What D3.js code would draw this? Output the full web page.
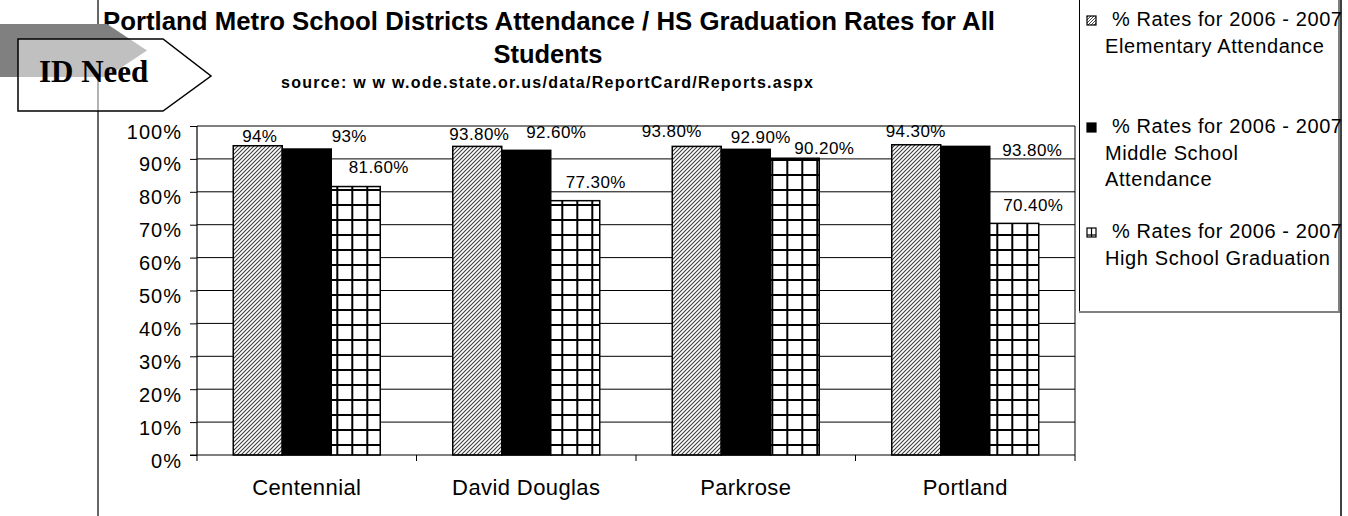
<!DOCTYPE html>
<html><head><meta charset="utf-8">
<script src="https://cdn.jsdelivr.net/npm/d3@7/dist/d3.min.js"></script>
<style>body{margin:0;background:#fff;} svg{display:block;}</style>
</head><body><svg id="c" width="1348" height="516"></svg>
<script>
// ---------- data ----------
const categories = ["Centennial", "David Douglas", "Parkrose", "Portland"];
const elementary = [94, 93.8, 93.8, 94.3];
const middle = [93, 92.6, 92.9, 93.8];
const highSchool = [81.6, 77.3, 90.2, 70.4];
const elementaryLabels = ["94%", "93.80%", "93.80%", "94.30%"];
const middleLabels = ["93%", "92.60%", "92.90%", "93.80%"];
const highSchoolLabels = ["81.60%", "77.30%", "90.20%", "70.40%"];
const seriesLegend = [
  ["% Rates for 2006 - 2007", "Elementary Attendance"],
  ["% Rates for 2006 - 2007", "Middle School", "Attendance"],
  ["% Rates for 2006 - 2007", "High School Graduation"]
];
const yTicks = [0, 10, 20, 30, 40, 50, 60, 70, 80, 90, 100];
const titleLines = ["Portland Metro School Districts Attendance / HS Graduation Rates for All", "Students"];
const sourceText = "source: w w w.ode.state.or.us/data/ReportCard/Reports.aspx";
const badgeText = "ID Need";

// label nudges (layout only): [dx from bar centre, dy of baseline from bar top]
const labelNudge = [
  [[2, -4], [2, -6.4], [-25, -9], [-0.5, -7.5]],
  [[42.5, -7.3], [30, -12], [15, -6], [67, 9.3]],
  [[23, -13.5], [20.5, -12.4], [29.5, -4], [19, -12.4]]
];

const series = [
  {values: elementary, labels: elementaryLabels, fill: "url(#hatch)"},
  {values: middle, labels: middleLabels, fill: "#000"},
  {values: highSchool, labels: highSchoolLabels, fill: "url(#grid)"}
];

// ---------- layout ----------
const FONT = "'Liberation Sans', Arial, sans-serif";
const svg = d3.select("#c");
const plot = {left: 197, right: 1075, top: 126, bottom: 455};

const x = d3.scaleBand().domain(categories).range([plot.left, plot.right]).paddingInner(0).paddingOuter(0);
const xs = d3.scaleBand().domain([0, 1, 2]).range([0, x.bandwidth()]).paddingInner(0).paddingOuter(0.74);
const y = d3.scaleLinear().domain([0, 100]).range([plot.bottom, plot.top]);

// ---------- patterns ----------
const defs = svg.append("defs");
const hatch = defs.append("pattern").attr("id", "hatch").attr("patternUnits", "userSpaceOnUse")
  .attr("width", 4).attr("height", 4);
hatch.append("rect").attr("width", 4).attr("height", 4).attr("fill", "#fff");
hatch.append("path").attr("d", "M-1,1 L1,-1 M0,4 L4,0 M3,5 L5,3")
  .attr("stroke", "#3a3a3a").attr("stroke-width", 1.05);

const grid = defs.append("pattern").attr("id", "grid").attr("patternUnits", "userSpaceOnUse")
  .attr("x", 6.3).attr("y", 9).attr("width", 15).attr("height", 15);
grid.append("rect").attr("width", 15).attr("height", 15).attr("fill", "#fff");
grid.append("path").attr("d", "M1,0 V15 M0,1 H15").attr("stroke", "#000").attr("stroke-width", 2);

const lhatch = defs.append("pattern").attr("id", "lhatch").attr("patternUnits", "userSpaceOnUse")
  .attr("width", 3).attr("height", 3);
lhatch.append("rect").attr("width", 3).attr("height", 3).attr("fill", "#fff");
lhatch.append("path").attr("d", "M-1,1 L1,-1 M0,3 L3,0 M2,4 L4,2")
  .attr("stroke", "#333").attr("stroke-width", 0.9);

// ---------- chart frame ----------
svg.append("line").attr("x1", 98).attr("x2", 98).attr("y1", 0).attr("y2", 516)
  .attr("stroke", "#000").attr("stroke-width", 1.2);
svg.append("line").attr("x1", 1341).attr("x2", 1341).attr("y1", 0).attr("y2", 516)
  .attr("stroke", "#000").attr("stroke-width", 1.5);

// ---------- gridlines ----------
svg.append("g").selectAll("line").data(yTicks.filter(d => d > 0)).join("line")
  .attr("x1", plot.left).attr("x2", plot.right)
  .attr("y1", d => y(d)).attr("y2", d => y(d))
  .attr("stroke", "#000").attr("stroke-width", 1);
svg.append("line").attr("x1", plot.right).attr("x2", plot.right)
  .attr("y1", plot.top).attr("y2", plot.bottom).attr("stroke", "#000").attr("stroke-width", 1);

// ---------- bars ----------
series.forEach((s, si) => {
  svg.append("g").selectAll("rect").data(categories).join("rect")
    .attr("x", (c) => x(c) + xs(si))
    .attr("width", xs.bandwidth())
    .attr("y", (c, i) => y(s.values[i]))
    .attr("height", (c, i) => y(0) - y(s.values[i]))
    .attr("fill", s.fill)
    .attr("stroke", "#000").attr("stroke-width", 1.5);
});

// ---------- axes ----------
const yAxis = svg.append("g").attr("transform", `translate(${plot.left},0)`)
  .call(d3.axisLeft(y).tickValues(yTicks).tickSize(7).tickFormat(d => d + "%"));
yAxis.select(".domain").attr("stroke", "#000").attr("stroke-width", 1.2).attr("d", `M0,${plot.top}V${plot.bottom}`);
yAxis.selectAll(".tick line").attr("stroke", "#000").attr("stroke-width", 1);
yAxis.selectAll(".tick text").attr("x", -15).attr("dy", "0.6em")
  .attr("font-family", FONT).attr("font-size", 20).attr("letter-spacing", 1).attr("fill", "#000");

const xAxis = svg.append("g").attr("transform", `translate(0,${plot.bottom})`)
  .call(d3.axisBottom(x).tickSize(0).tickSizeOuter(0));
xAxis.select(".domain").attr("stroke", "#000").attr("stroke-width", 1.2).attr("d", `M${plot.left - 7},0H${plot.right}`);
xAxis.selectAll(".tick text").attr("y", 40).attr("dy", 0)
  .attr("font-family", FONT).attr("font-size", 22).attr("letter-spacing", 0.4).attr("fill", "#000");
const edges = categories.map(c => x(c)).concat([x(categories[categories.length - 1]) + x.bandwidth()]);
xAxis.append("g").selectAll("line").data(edges).join("line")
  .attr("x1", d => d).attr("x2", d => d).attr("y1", 0).attr("y2", 6)
  .attr("stroke", "#000").attr("stroke-width", 1);

// ---------- data labels ----------
series.forEach((s, si) => {
  svg.append("g").selectAll("text").data(categories).join("text")
    .attr("x", (c, i) => x(c) + xs(si) + xs.bandwidth() / 2 + labelNudge[si][i][0])
    .attr("y", (c, i) => y(s.values[i]) + labelNudge[si][i][1])
    .attr("text-anchor", "middle")
    .attr("font-family", FONT).attr("font-size", 17).attr("letter-spacing", 0.4)
    .text((c, i) => s.labels[i]);
});

// ---------- titles ----------
svg.append("text").attr("x", 549).attr("y", 30).attr("text-anchor", "middle")
  .attr("font-family", FONT).attr("font-weight", "bold").attr("font-size", 25.5)
  .attr("textLength", 892).attr("lengthAdjust", "spacingAndGlyphs")
  .text(titleLines[0]);
svg.append("text").attr("x", 548).attr("y", 63).attr("text-anchor", "middle")
  .attr("font-family", FONT).attr("font-weight", "bold").attr("font-size", 25.5)
  .text(titleLines[1]);
svg.append("text").attr("x", 281).attr("y", 88)
  .attr("font-family", FONT).attr("font-weight", "bold").attr("font-size", 16)
  .attr("textLength", 532).attr("lengthAdjust", "spacing")
  .text(sourceText);

// ---------- legend ----------
const lg = svg.append("g");
lg.append("line").attr("x1", 1079.5).attr("x2", 1079.5).attr("y1", 0).attr("y2", 312)
  .attr("stroke", "#000").attr("stroke-width", 1);
lg.append("line").attr("x1", 1079).attr("x2", 1340).attr("y1", 312).attr("y2", 312)
  .attr("stroke", "#808080").attr("stroke-width", 2);
lg.append("line").attr("x1", 1339).attr("x2", 1339).attr("y1", 0).attr("y2", 313)
  .attr("stroke", "#808080").attr("stroke-width", 2);

const legendRowBase = [26, 133, 238];
const legendFills = ["url(#lhatch)", "#000", "#fff"];
seriesLegend.forEach((lines, si) => {
  const b = legendRowBase[si];
  lg.append("rect").attr("x", 1087).attr("y", b - 10).attr("width", 9).attr("height", 9)
    .attr("fill", legendFills[si]).attr("stroke", "#000").attr("stroke-width", 1.2);
  if (si === 2) {
    lg.append("line").attr("x1", 1091.5).attr("x2", 1091.5).attr("y1", b - 10).attr("y2", b - 1)
      .attr("stroke", "#000").attr("stroke-width", 1.2);
    lg.append("line").attr("x1", 1087).attr("x2", 1096).attr("y1", b - 3).attr("y2", b - 3)
      .attr("stroke", "#000").attr("stroke-width", 1.2);
  }
  lines.forEach((t, li) => {
    lg.append("text").attr("x", li === 0 ? 1112 : 1105).attr("y", b + li * 26.5)
      .attr("font-family", FONT).attr("font-size", 20).attr("letter-spacing", 0.6)
      .text(t);
  });
});

// ---------- ID Need badge ----------
svg.append("path").attr("d", "M0,24 H107 L147,50.5 L107,77 H0 Z").attr("fill", "#808080");
svg.append("path").attr("d", "M18,39 H163 L211,76 L163,111 H18 Z")
  .attr("fill", "#fff").attr("fill-opacity", 0.5).attr("stroke", "#000").attr("stroke-width", 1.5);
svg.append("text").attr("x", 39).attr("y", 82)
  .attr("font-family", "'Liberation Serif', 'Times New Roman', serif").attr("font-weight", "bold")
  .attr("font-size", 31).text(badgeText);
</script></body></html>
